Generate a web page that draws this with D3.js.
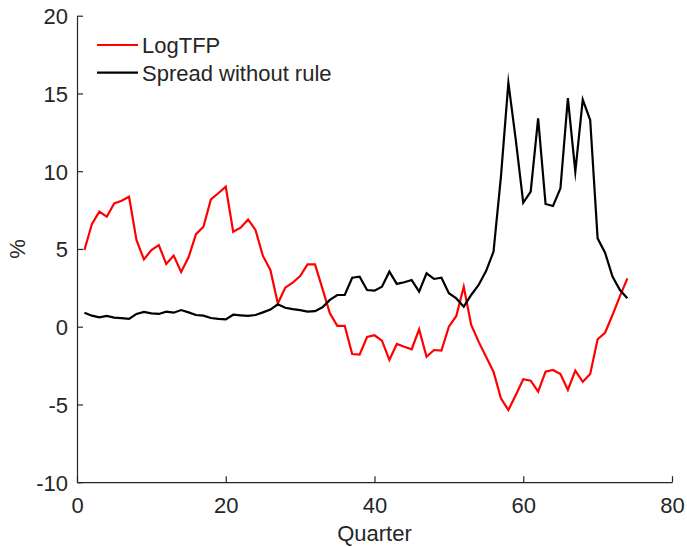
<!DOCTYPE html>
<html><head><meta charset="utf-8">
<script src="https://cdn.jsdelivr.net/npm/d3@7"></script>
<style>body{margin:0;background:#fff}svg{display:block}text{font-family:"Liberation Sans",Arial,Helvetica,sans-serif;fill:#262626}</style>
</head><body>
<svg id="c" width="687" height="547"></svg>
<script>
const seriesNames = ["LogTFP", "Spread without rule"];
const seriesColors = ["#ff0000", "#000000"];
const logTFP = [4.93,6.6,7.4,7.07,7.93,8.1,8.36,5.57,4.33,4.93,5.25,4.03,4.57,3.52,4.46,5.95,6.43,8.19,8.58,9.0,
 6.11,6.37,6.9,6.22,4.55,3.65,1.5,2.51,2.83,3.26,4.01,4.01,2.45,0.86,0.05,0.05,-1.76,-1.8,-0.66,-0.55,
 -0.9,-2.14,-1.11,-1.29,-1.45,-0.17,-1.93,-1.5,-1.54,0.0,0.69,2.57,0.11,-0.96,-1.93,-2.89,-4.6,-5.36,-4.39,-3.38,
 -3.47,-4.18,-2.89,-2.78,-3.04,-4.07,-2.83,-3.54,-3.04,-0.81,-0.39,0.75,1.97,3.11];
const spread = [0.9,0.71,0.6,0.69,0.58,0.55,0.5,0.82,0.95,0.86,0.82,0.97,0.9,1.07,0.92,0.75,0.71,0.56,0.5,0.47,
 0.77,0.73,0.7,0.75,0.92,1.1,1.44,1.22,1.13,1.07,0.97,1.0,1.25,1.72,2.04,2.04,3.15,3.22,2.36,2.32,
 2.57,3.54,2.75,2.86,3.0,2.25,3.43,3.07,3.15,2.15,1.82,1.29,2.04,2.68,3.58,4.82,9.65,15.7,12.0,7.97,
 8.68,13.4,7.89,7.76,8.9,14.7,9.97,14.6,13.29,5.68,4.76,3.22,2.36,1.83];
const xTicks = [0,20,40,60,80];
const yTicks = [-10,-5,0,5,10,15,20];
const xLabel = "Quarter", yLabel = "%";

const svg = d3.select("#c");
const x = d3.scaleLinear().domain([0,80]).range([77,672]);
const y = d3.scaleLinear().domain([-10,20]).range([482.2,15.7]);
const axisColor = "#262626";
const fmt = d => String(d);

const gx = svg.append("g").attr("transform",`translate(0,${y(-10)})`)
  .call(d3.axisBottom(x).tickValues(xTicks).tickFormat(fmt).tickSizeInner(-6).tickSizeOuter(0).tickPadding(15));
const gy = svg.append("g").attr("transform",`translate(${x(0)},0)`)
  .call(d3.axisLeft(y).tickValues(yTicks).tickFormat(fmt).tickSizeInner(-6).tickSizeOuter(0).tickPadding(9));
[gx,gy].forEach(g=>{
  g.select(".domain").attr("stroke",axisColor).attr("stroke-width",1.2);
  g.selectAll(".tick line").attr("stroke",axisColor).attr("stroke-width",1.2);
  g.selectAll(".tick text").attr("font-size",22).attr("fill",axisColor)
   .style("font-family",'"Liberation Sans",Arial,sans-serif');
});
gy.selectAll(".tick text").attr("dy","0.36em");

svg.append("text").attr("x",(x(0)+x(80))/2).attr("y",541).attr("text-anchor","middle")
  .attr("font-size",22).text(xLabel);
svg.append("text").attr("transform",`translate(25,${y(5)}) rotate(-90)`).attr("text-anchor","middle")
  .attr("font-size",22).text(yLabel);

const line = d3.line().x((d,i)=>x(i+1)).y(d=>y(d));
[logTFP, spread].forEach((s,k)=>{
  svg.append("path").datum(s).attr("d",line).attr("fill","none")
    .attr("stroke",seriesColors[k]).attr("stroke-width",2.2)
    .attr("stroke-linejoin","miter").attr("stroke-miterlimit",10);
});

const lg = svg.append("g");
seriesNames.forEach((n,k)=>{
  const yy = 45 + k*27.7;
  lg.append("line").attr("x1",97).attr("x2",138).attr("y1",yy).attr("y2",yy)
    .attr("stroke",seriesColors[k]).attr("stroke-width",2.2);
  lg.append("text").attr("x",142).attr("y",yy).attr("dy","0.36em").attr("font-size",22)
    .attr("fill","#000").text(n);
});
</script>
</body></html>
